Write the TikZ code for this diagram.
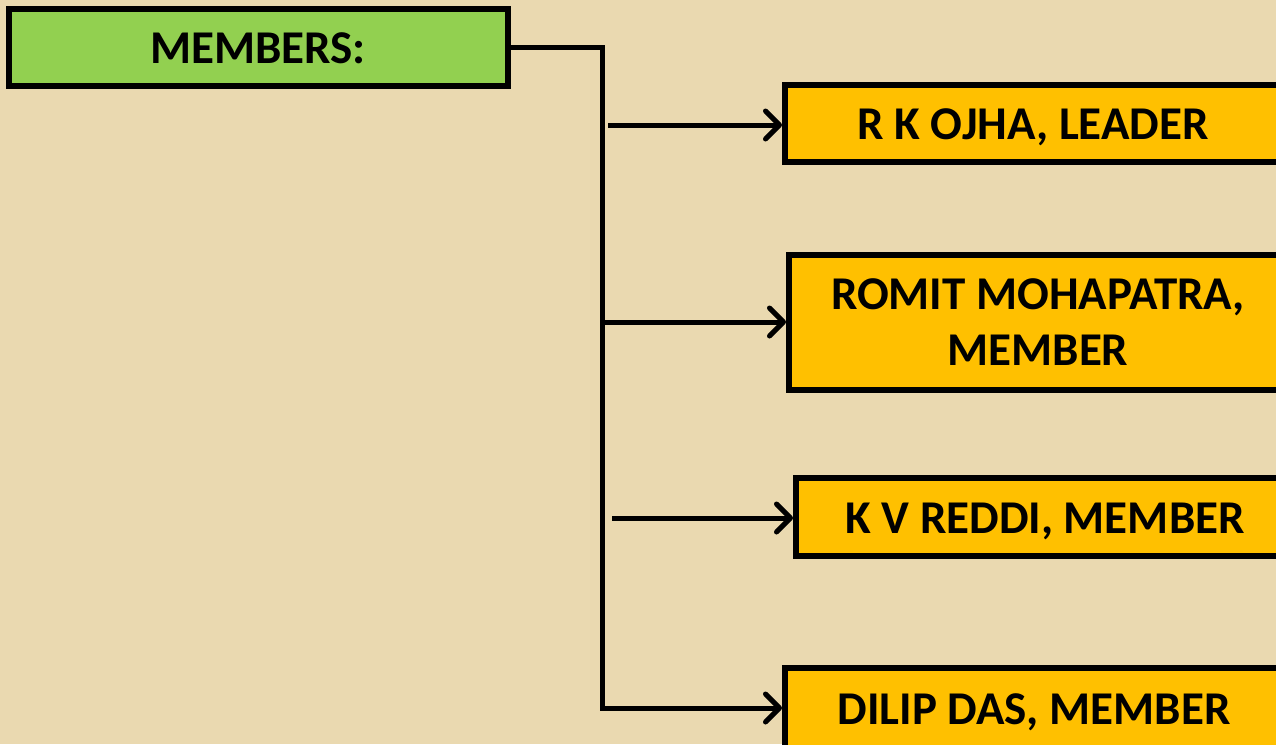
\documentclass[tikz,border=0pt]{standalone}
\usepackage{fontspec}
\setmainfont{Carlito}
\usetikzlibrary{arrows.meta}
\definecolor{bg}{RGB}{234,217,176}
\definecolor{grn}{RGB}{146,208,80}
\definecolor{gold}{RGB}{255,192,0}
\tikzset{
  box/.style={draw=black, line width=6pt, inner sep=0pt, align=center,
    font=\bfseries\fontsize{47}{56}\selectfont},
  headbox/.style={box, fill=grn, minimum width=499pt, minimum height=77pt},
  namebox/.style={box, fill=gold},
  oneline/.style={text height=32pt, text depth=0pt},
  link/.style={draw=black, line width=5pt},
  arr/.style={link, -{Straight Barb[length=14pt,width=28pt,round]}}
}
\begin{document}
\begin{tikzpicture}[x=1pt,y=1pt]
\useasboundingbox (0,0) rectangle (1276,-744);
\clip (0,0) rectangle (1276,-744);
\fill[bg] (0,0) rectangle (1276,-744);
% nodes
\node[headbox, oneline] (m) at (258,-47) {MEMBERS:};
\node[namebox, oneline, minimum width=496pt, minimum height=77pt] (r1) at (1033,-123.5) {R K OJHA, LEADER};
\node[namebox, minimum width=498pt, minimum height=135pt] (r2) at (1038,-322.5) {ROMIT MOHAPATRA,\\MEMBER};
\node[namebox, oneline, minimum width=498pt, minimum height=78pt] (r3) at (1045,-517) {K V REDDI, MEMBER};
\node[namebox, oneline, minimum width=498pt, minimum height=80pt] (r4) at (1034,-708) {DILIP DAS, MEMBER};
% connector coordinates
\coordinate (j) at (602,-708);
\coordinate (b1) at (608,-125);
\coordinate (b2) at (602,-322);
\coordinate (b3) at (612,-518);
% connectors
\draw[arr] (m.east) -| (j) -- (r4.west);
\draw[arr] (b1) -- (r1.west |- b1);
\draw[arr] (b2) -- (r2.west |- b2);
\draw[arr] (b3) -- (r3.west |- b3);
\end{tikzpicture}
\end{document}
